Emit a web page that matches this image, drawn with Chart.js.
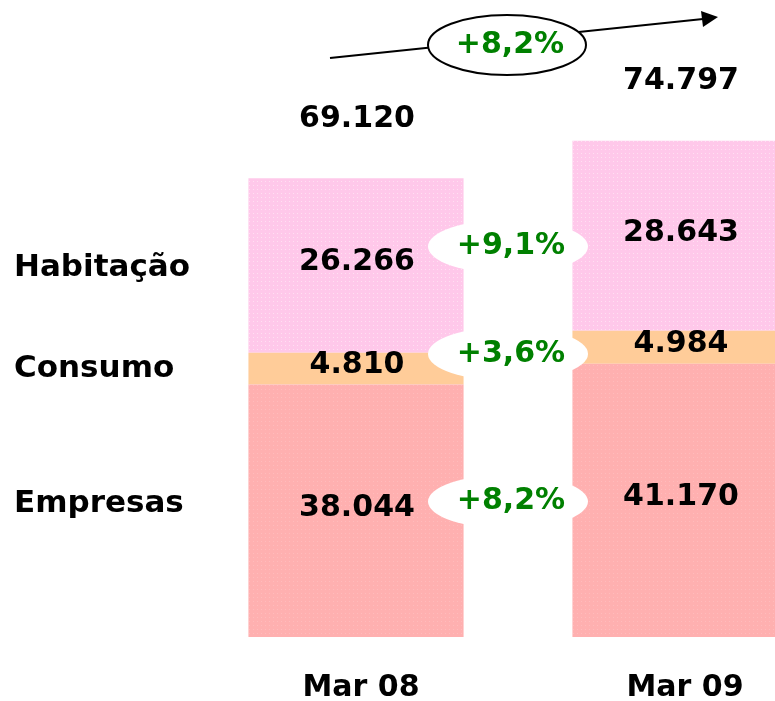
<!DOCTYPE html>
<html lang="pt">
<head>
<meta charset="UTF-8">
<title>Crédito - Mar 08 vs Mar 09</title>
<script src="https://cdn.jsdelivr.net/npm/chart.js"></script>
<style>
    html, body { margin: 0; padding: 0; background: #fff; overflow: hidden; }
    #wrap { position: relative; width: 850px; height: 701px; }
</style>
</head>
<body>
<div id="wrap"><canvas id="grafico"></canvas></div>
<script>
    // dados
    const periodos = ["Mar 08", "Mar 09"];
    const segmentos = ["Empresas", "Consumo", "Habitação"];
    const empresas = [38044, 41170];
    const consumo = [4810, 4984];
    const habitacao = [26266, 28643];
    const totais = [69120, 74797];
    const variacoes = ["+8,2%", "+3,6%", "+9,1%"];   // por segmento, mesma ordem
    const variacaoTotal = "+8,2%";

    const FONTE = "bold 30px 'DejaVu Sans', sans-serif";
    const VERDE = "#008000";

    function padrao(base, ponto) {
        const c = document.createElement("canvas");
        c.width = 4; c.height = 4;
        const g = c.getContext("2d");
        g.fillStyle = base;
        g.fillRect(0, 0, 4, 4);
        g.fillStyle = ponto;
        g.fillRect(1, 1, 1, 1);
        return g.createPattern(c, "repeat");
    }

    const fmt = v => v.toLocaleString("de-DE");

    // rótulos, valores e setas desenhados por cima das barras
    const anotacoes = {
        id: "anotacoes",
        afterDatasetsDraw(chart) {
            const ctx = chart.ctx;
            const y = chart.scales.y;
            const x = chart.scales.x;
            ctx.save();
            ctx.textAlign = "center";
            ctx.textBaseline = "middle";
            ctx.font = FONTE;
            ctx.fillStyle = "#000";

            // valores dentro de cada segmento
            chart.data.datasets.forEach((ds, d) => {
                chart.getDatasetMeta(d).data.forEach((bar, i) => {
                    const meio = (bar.y + bar.base) / 2;
                    ctx.fillText(fmt(ds.data[i]), bar.x + 1, meio - 3);
                });
            });

            // totais por cima
            totais.forEach((t, i) => {
                ctx.fillText(fmt(t), x.getPixelForValue(i) + 1, y.getPixelForValue(t) - 59);
            });

            // categorias em baixo
            periodos.forEach((p, i) => {
                ctx.fillText(p, x.getPixelForValue(i) + 5, 688);
            });

            // variações entre as barras
            const b0 = x.getPixelForValue(0), b1 = x.getPixelForValue(1);
            const cx = (b0 + b1) / 2 - 10;
            chart.data.datasets.forEach((ds, d) => {
                const m0 = chart.getDatasetMeta(d).data[0];
                const m1 = chart.getDatasetMeta(d).data[1];
                const cy = ((m0.y + m0.base) / 2 + (m1.y + m1.base) / 2) / 2 - 4;
                ctx.fillStyle = "#fff";
                ctx.beginPath();
                ctx.ellipse(cx, cy, 80, 27, 0, 0, Math.PI * 2);
                ctx.fill();
                ctx.fillStyle = VERDE;
                ctx.fillText(variacoes[d], cx + 3, cy);
            });

            // seta do total
            ctx.strokeStyle = "#000";
            ctx.fillStyle = "#000";
            ctx.lineWidth = 2;
            ctx.beginPath();
            ctx.moveTo(330, 58);
            ctx.lineTo(703, 19);
            ctx.stroke();
            ctx.beginPath();
            ctx.moveTo(718, 17);
            ctx.lineTo(701, 11);
            ctx.lineTo(703, 27);
            ctx.closePath();
            ctx.fill();

            ctx.fillStyle = "#fff";
            ctx.beginPath();
            ctx.ellipse(507, 45, 79, 30, 0, 0, Math.PI * 2);
            ctx.fill();
            ctx.stroke();
            ctx.fillStyle = VERDE;
            ctx.fillText(variacaoTotal, 510, 45);

            // nomes dos segmentos à esquerda
            ctx.textAlign = "left";
            ctx.fillStyle = "#000";
            ctx.font = "bold 31px 'DejaVu Sans', sans-serif";
            ctx.fillText(segmentos[2], 14, 268);
            ctx.fillText(segmentos[1], 14, 369);
            ctx.fillText(segmentos[0], 14, 504);
            ctx.restore();
        }
    };

    new Chart(document.getElementById("grafico"), {
        type: "bar",
        data: {
            labels: periodos,
            datasets: [
                { label: segmentos[0], data: empresas, backgroundColor: padrao("#ffb0b0", "#ffbcbc") },
                { label: segmentos[1], data: consumo, backgroundColor: "#ffcc99" },
                { label: segmentos[2], data: habitacao, backgroundColor: padrao("#ffc8ea", "#ffe0f2") }
            ]
        },
        options: {
            responsive: true,
            maintainAspectRatio: false,
            animation: false,
            layout: { padding: { left: 194, right: 8, top: 0, bottom: 64 } },
            datasets: { bar: { barPercentage: 0.664, categoryPercentage: 1 } },
            plugins: { legend: { display: false }, tooltip: { enabled: false } },
            scales: {
                x: { stacked: true, display: false },
                y: { stacked: true, display: false, min: 0, max: 96000 }
            }
        },
        plugins: [anotacoes]
    });
</script>
</body>
</html>
